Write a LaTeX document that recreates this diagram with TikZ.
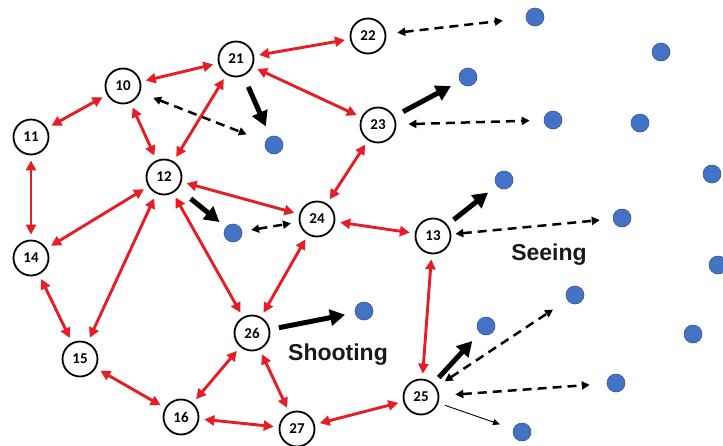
\documentclass[tikz,border=0pt]{standalone}
\usepackage{fontspec}
\setmainfont{Liberation Sans}
\newfontfamily\numfont{Carlito}
\usetikzlibrary{arrows.meta}
\definecolor{linkred}{RGB}{232,28,36}
\definecolor{dotblue}{RGB}{68,114,196}
\definecolor{dotedge}{RGB}{52,88,150}
\begin{document}
\begin{tikzpicture}[x=1pt,y=-1pt,
  vert/.style={circle,draw,line width=1.8pt,minimum size=35pt,inner sep=0pt,
    font=\numfont\bfseries\fontsize{15}{15}\selectfont},
  spot/.style={circle,fill=dotblue,draw=dotedge,line width=0.6pt,minimum size=18pt,inner sep=0pt},
  link/.style={draw=linkred,line width=2.9pt,
    {Triangle[length=10pt,width=10pt]}-{Triangle[length=10pt,width=10pt]},
    shorten <=5pt,shorten >=5pt},
  push/.style={draw=black,line width=5pt,
    -{Triangle[length=15pt,width=16pt]}},
  probe/.style={draw=black,line width=2.5pt,dash pattern=on 9pt off 6pt,
    {Triangle[length=8pt,width=8pt]}-{Triangle[length=8pt,width=8pt]}},
  glance/.style={draw=black,line width=0.9pt,-{Triangle[length=7pt,width=6pt]}},
  caption/.style={font=\bfseries\fontsize{23}{23}\selectfont,text=black!90}
]
\useasboundingbox (0,0) rectangle (723,445);

% numbered agents
\node[vert] (n21) at (236,59) {21};
\node[vert] (n22) at (368,36) {22};
\node[vert] (n10) at (123,86) {10};
\node[vert] (n11) at (31,137) {11};
\node[vert] (n23) at (378,125) {23};
\node[vert] (n12) at (164,177) {12};
\node[vert] (n24) at (317,219) {24};
\node[vert] (n13) at (433,236) {13};
\node[vert] (n14) at (31,258) {14};
\node[vert] (n26) at (252,333) {26};
\node[vert] (n15) at (80,359) {15};
\node[vert] (n16) at (181,417) {16};
\node[vert] (n27) at (297,429) {27};
\node[vert] (n25) at (421,397) {25};

% targets
\node[spot] (t1) at (535,17) {};
\node[spot] (t2) at (661,52) {};
\node[spot] (t3) at (468,77) {};
\node[spot] (t4) at (553,120) {};
\node[spot] (t5) at (640,123) {};
\node[spot] (t6) at (274,145) {};
\node[spot] (t7) at (504,180) {};
\node[spot] (t8) at (712,174) {};
\node[spot] (t9) at (622,218) {};
\node[spot] (t10) at (233,233) {};
\node[spot] (t11) at (718,265) {};
\node[spot] (t12) at (364,311) {};
\node[spot] (t13) at (575,295) {};
\node[spot] (t14) at (486,326) {};
\node[spot] (t15) at (693,334) {};
\node[spot] (t16) at (616,383) {};
\node[spot] (t17) at (522,432) {};

% mutual links between agents
\draw[link] (n21) -- (n10);
\draw[link] (n21) -- (n22);
\draw[link] (n21) -- (n23);
\draw[link] (n21) -- (n12);
\draw[link] (n10) -- (n11);
\draw[link] (n10) -- (n12);
\draw[link] (n11) -- (n14);
\draw[link] (n12) -- (n14);
\draw[link] (n12) -- (n15);
\draw[link] (n12) -- (n24);
\draw[link] (n12) -- (n26);
\draw[link] (n23) -- (n24);
\draw[link] (n24) -- (n13);
\draw[link] (n24) -- (n26);
\draw[link] (n14) -- (n15);
\draw[link] (n15) -- (n16);
\draw[link] (n16) -- (n26);
\draw[link] (n16) -- (n27);
\draw[link] (n26) -- (n27);
\draw[link] (n27) -- (n25);
\draw[link] (n13) -- (n25);

% shots
\draw[push,shorten <=12pt,shorten >=11pt] (n21) -- (t6);
\draw[push,shorten <=16pt,shorten >=8pt] (n12) -- (t10);
\draw[push,shorten <=10pt,shorten >=10pt] (n23) -- (t3);
\draw[push,shorten <=9pt,shorten >=10pt] (n26) -- (t12);
\draw[push,shorten <=8pt,shorten >=11pt] (n13) -- (t7);
\draw[push,shorten <=8pt,shorten >=11pt] (n25) -- (t14);

% sight lines
\draw[probe,shorten <=14pt,shorten >=20pt] (n10) -- (t6);
\draw[probe,shorten <=11pt,shorten >=23pt] (n22) -- (t1);
\draw[probe,shorten <=12pt,shorten >=14pt] (n23) -- (t4);
\draw[probe,shorten <=9pt,shorten >=8pt] (t10) -- (n24);
\draw[probe,shorten <=4pt,shorten >=13pt] (n13) -- (t9);
\draw[probe,shorten <=10pt,shorten >=17pt] (n25) -- (t13);
\draw[probe,shorten <=16pt,shorten >=17pt] (n25) -- (t16);
\draw[glance,shorten <=7pt,shorten >=14pt] (n25) -- (t17);

% labels
\node[caption] (shoot) at (338,355) {Shooting};
\node[caption] (see) at (549,255) {Seeing};
\end{tikzpicture}
\end{document}
